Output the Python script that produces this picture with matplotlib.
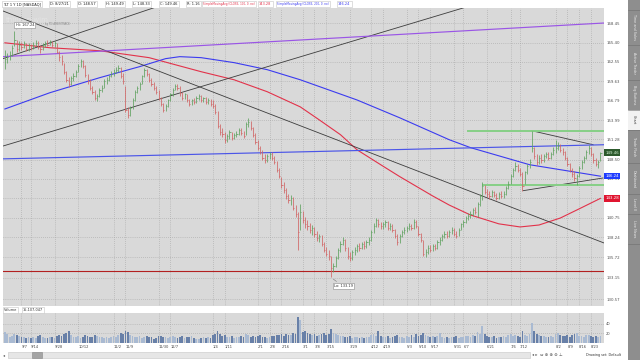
import numpy as np
import pandas as pd
import matplotlib
matplotlib.use("Agg")
import matplotlib.pyplot as plt
import matplotlib.transforms as mtransforms
from matplotlib.patches import Rectangle
from matplotlib.lines import Line2D
from matplotlib.ticker import NullLocator

# daily bars TLT, 8/27/20 .. 8/27/21
close = [
    162.9, 163.2, 163.6, 164.6, 165.9, 164.4, 165.1, 164.8, 165.3, 164.4,
    165.0, 164.6, 165.1, 165.4, 164.8, 164.4, 165.0, 165.3, 165.1, 165.6,
    165.0, 165.3, 164.0, 163.2, 162.6, 161.0, 159.85, 159.25, 160.1, 160.4,
    161.0, 161.95, 162.6, 161.95, 160.6, 159.6, 158.7, 158.1, 157.2, 157.5,
    158.4, 158.7, 159.6, 159.85, 160.4, 160.75, 161.0, 161.35, 161.6, 160.4,
    159.6, 155.5, 154.8, 155.75, 156.9, 158.1, 158.7, 159.25, 160.4, 161.35,
    160.75, 159.85, 159.25, 158.7, 158.1, 157.2, 156.35, 155.5, 156.05, 156.9,
    157.7, 158.4, 158.95, 158.7, 157.85, 157.2, 157.7, 156.9, 156.35, 156.9,
    156.6, 157.2, 157.5, 156.9, 157.2, 156.6, 156.9, 156.35, 156.05, 155.2,
    153.2, 152.3, 152.1, 151.25, 151.8, 152.3, 151.5, 151.95, 152.1, 152.6,
    152.2, 151.8, 153.5, 153.75, 152.9, 151.95, 151.0, 150.1, 149.55, 148.75,
    148.45, 149.0, 149.3, 148.75, 148.2, 147.1, 146.3, 145.0, 144.4, 143.6,
    143.1, 143.35, 142.0, 141.2, 138.95, 141.5, 140.45, 139.9, 139.7, 139.2,
    139.45, 138.7, 138.15, 138.4, 137.4, 136.65, 136.15, 135.9, 134.4, 134.6,
    135.65, 136.65, 137.4, 137.9, 136.9, 135.9, 135.65, 136.4, 136.65, 137.15,
    136.9, 137.4, 137.15, 137.65, 137.9, 138.95, 139.7, 140.45, 139.9, 139.7,
    139.9, 140.2, 139.45, 139.7, 139.2, 138.4, 137.65, 138.4, 138.95, 139.2,
    139.45, 139.7, 139.45, 140.2, 139.7, 138.7, 137.9, 136.15, 136.4, 136.9,
    136.65, 137.15, 136.9, 137.65, 137.9, 138.4, 138.7, 138.4, 138.95, 139.2,
    138.7, 138.4, 139.2, 139.9, 140.2, 140.7, 141.0, 141.2, 141.75, 141.5,
    142.55, 143.6, 144.95, 144.15, 143.9, 143.6, 144.15, 143.75, 143.35, 143.9,
    143.6, 143.9, 144.7, 145.2, 146.3, 147.1, 147.65, 147.1, 146.6, 144.95,
    146.8, 147.65, 148.2, 150.1, 149.0, 148.2, 148.75, 148.45, 149.0, 149.3,
    148.75, 149.3, 149.85, 150.1, 150.4, 149.85, 149.55, 148.75, 147.95, 147.1,
    146.6, 146.05, 146.3, 147.4, 148.2, 148.75, 149.55, 150.1, 149.3, 148.45,
    147.95, 148.2, 149.46,
]
high = [
    164.3, 163.9, 164.1, 165.0, 167.24, 165.8, 165.6, 165.5, 165.7, 165.4,
    165.3, 165.2, 165.5, 165.9, 165.6, 165.0, 165.3, 165.7, 165.8, 165.9,
    165.7, 165.6, 165.3, 164.2, 163.5, 162.4, 161.2, 160.3, 160.4, 160.9,
    161.3, 162.2, 163.0, 162.8, 162.0, 160.7, 159.9, 159.0, 158.3, 157.8,
    158.6, 159.1, 159.9, 160.3, 160.6, 161.1, 161.4, 161.7, 162.0, 161.8,
    160.8, 159.0, 155.9, 156.0, 157.2, 158.3, 159.0, 159.5, 160.6, 161.6,
    161.5, 160.9, 160.1, 159.5, 158.9, 158.3, 157.4, 156.5, 156.3, 157.1,
    157.9, 158.6, 159.3, 159.2, 158.9, 158.0, 157.9, 157.8, 157.1, 157.1,
    157.2, 157.5, 157.8, 157.6, 157.4, 157.4, 157.2, 157.1, 156.9, 156.3,
    155.3, 153.5, 152.9, 152.3, 152.1, 152.6, 152.4, 152.2, 152.5, 152.9,
    152.9, 152.5, 153.8, 154.3, 153.9, 153.0, 152.2, 151.2, 150.4, 149.8,
    149.2, 149.3, 149.6, 149.5, 149.0, 148.3, 147.3, 146.2, 145.4, 144.7,
    143.9, 143.7, 143.4, 142.4, 141.5, 142.6, 141.6, 140.8, 140.4, 140.0,
    139.8, 139.6, 139.0, 138.7, 138.5, 137.6, 137.0, 136.6, 135.9, 135.0,
    135.9, 136.9, 137.7, 138.3, 138.0, 137.0, 136.3, 136.6, 137.0, 137.4,
    137.5, 137.6, 137.7, 137.9, 138.2, 139.2, 140.0, 140.7, 140.6, 140.2,
    140.2, 140.5, 140.3, 140.0, 139.9, 139.3, 138.6, 138.6, 139.2, 139.5,
    139.7, 140.0, 139.9, 140.6, 140.4, 139.7, 138.8, 137.9, 136.8, 137.2,
    137.2, 137.4, 137.4, 137.9, 138.2, 138.6, 139.0, 139.0, 139.2, 139.5,
    139.4, 139.0, 139.4, 140.1, 140.5, 141.0, 141.3, 141.6, 142.0, 142.1,
    142.8, 143.9, 145.4, 145.1, 144.5, 144.2, 144.4, 144.3, 144.0, 144.1,
    144.2, 144.2, 144.9, 145.6, 146.6, 147.4, 148.2, 147.9, 147.4, 146.8,
    147.0, 147.9, 148.6, 152.5, 150.3, 149.3, 149.1, 149.2, 149.3, 149.6,
    149.5, 149.5, 150.2, 151.2, 151.0, 150.7, 150.1, 149.7, 148.9, 148.1,
    147.3, 146.9, 146.6, 147.6, 148.5, 149.0, 149.8, 150.55, 150.3, 149.4,
    148.7, 148.5, 149.49,
]
low = [
    161.5, 162.3, 162.8, 163.4, 164.9, 164.0, 164.2, 164.3, 164.6, 164.1,
    164.2, 164.3, 164.5, 164.9, 164.5, 163.9, 164.3, 164.8, 164.9, 165.0,
    164.7, 164.8, 163.8, 162.7, 162.1, 160.7, 159.5, 158.8, 159.1, 159.7,
    160.2, 161.0, 161.8, 161.6, 160.3, 159.3, 158.4, 157.8, 156.9, 156.8,
    157.4, 158.0, 158.6, 159.3, 159.7, 160.2, 160.4, 160.8, 161.0, 160.1,
    159.3, 155.2, 154.3, 154.6, 155.6, 156.8, 157.9, 158.4, 159.2, 160.3,
    160.4, 159.5, 158.9, 158.3, 157.8, 156.9, 156.0, 155.2, 155.3, 155.9,
    156.8, 157.5, 158.3, 158.3, 157.5, 156.9, 157.0, 156.6, 156.0, 156.2,
    156.3, 156.5, 156.9, 156.6, 156.6, 156.3, 156.3, 156.0, 155.7, 154.9,
    152.9, 151.9, 151.6, 150.8, 150.9, 151.4, 151.2, 151.3, 151.6, 151.9,
    151.9, 151.5, 151.9, 153.1, 152.6, 151.6, 150.7, 149.8, 149.2, 148.4,
    148.1, 148.2, 148.6, 148.4, 147.9, 146.8, 146.0, 144.6, 144.0, 143.2,
    142.7, 142.4, 141.7, 140.9, 136.65, 139.2, 140.0, 139.4, 139.2, 138.8,
    138.5, 138.3, 137.8, 137.6, 137.1, 136.3, 135.8, 135.3, 133.19, 133.9,
    134.5, 135.5, 136.4, 137.2, 136.5, 135.5, 135.2, 135.4, 136.0, 136.4,
    136.5, 136.7, 136.8, 136.9, 137.3, 137.8, 138.8, 139.5, 139.6, 139.3,
    139.3, 139.6, 139.1, 139.1, 138.9, 138.1, 137.3, 137.5, 138.2, 138.6,
    138.9, 139.1, 139.1, 139.3, 139.4, 138.4, 137.6, 135.9, 135.7, 136.1,
    136.3, 136.5, 136.6, 136.8, 137.3, 137.7, 138.1, 138.1, 138.2, 138.7,
    138.4, 138.1, 138.4, 139.1, 139.6, 140.0, 140.4, 140.7, 141.0, 141.2,
    140.9, 142.3, 143.1, 143.8, 143.5, 143.2, 143.4, 143.4, 143.0, 143.2,
    143.3, 143.3, 143.7, 144.5, 145.2, 146.2, 147.0, 146.8, 146.3, 144.3,
    145.2, 146.6, 147.4, 149.6, 148.6, 147.8, 147.9, 148.1, 148.2, 148.7,
    148.4, 148.6, 149.1, 149.4, 149.8, 149.5, 149.1, 148.4, 147.6, 146.8,
    146.2, 145.6, 145.1, 146.1, 147.2, 148.0, 148.6, 149.3, 149.0, 148.1,
    147.6, 147.4, 148.33,
]
# volume in millions of shares
volume = [
    22, 18, 13, 15, 19, 17, 14, 12, 13, 11,
    12, 10, 13, 11, 14, 16, 12, 11, 10, 13,
    12, 11, 15, 17, 14, 18, 21, 24, 16, 13,
    12, 14, 11, 13, 16, 15, 12, 13, 17, 14,
    12, 13, 11, 12, 10, 13, 14, 12, 16, 20,
    18, 24, 22, 17, 14, 13, 12, 15, 11, 13,
    14, 12, 13, 9, 11, 15, 14, 12, 13, 11,
    12, 14, 13, 11, 12, 14, 10, 12, 13, 15,
    11, 9, 8, 10, 12, 11, 13, 10, 16, 19,
    24, 18, 15, 17, 13, 12, 14, 11, 13, 12,
    14, 12, 18, 16, 13, 15, 12, 14, 16, 13,
    12, 11, 13, 15, 14, 17, 16, 19, 15, 18,
    16, 17, 20, 19, 54, 48, 22, 24, 20, 18,
    17, 19, 15, 16, 18, 20, 17, 19, 28, 21,
    18, 16, 14, 15, 13, 12, 14, 11, 13, 12,
    10, 12, 11, 13, 12, 16, 18, 15, 24, 14,
    13, 12, 15, 11, 13, 14, 17, 12, 13, 11,
    14, 12, 16, 13, 18, 15, 17, 20, 16, 14,
    13, 15, 12, 14, 21, 13, 11, 12, 10, 13,
    12, 14, 11, 13, 12, 15, 14, 13, 16, 15,
    22, 19, 36, 18, 15, 13, 12, 14, 11, 13,
    12, 14, 13, 16, 18, 15, 17, 14, 13, 25,
    17, 15, 18, 42, 24, 19, 16, 14, 15, 13,
    12, 14, 13, 18, 20, 16, 15, 14, 17, 13,
    16, 18, 21, 15, 14, 13, 16, 17, 14, 13,
    15, 12, 15.1,
]

# moving averages, sampled along the curves (bar index, value)
sma100_x = [0, 19, 40, 61, 83, 97, 111, 125, 133, 142, 149, 159, 167, 181, 188, 197, 209, 218, 226, 235, 243, 252]
sma100 = [165.4, 164.65, 164.2, 163.15, 161.05, 159.85, 158.1, 155.9, 154.05, 151.95, 149.85,
          147.8, 146.2, 143.6, 142.4, 141.1, 139.95, 139.55, 139.8, 140.7, 141.9, 143.28]
sma200_x = [0, 19, 40, 57, 68, 74, 83, 97, 111, 125, 149, 167, 188, 197, 222, 252]
sma200 = [155.6, 157.95, 160.15, 161.8, 163.0, 163.3, 163.15, 162.4, 161.35, 159.85,
          156.9, 154.35, 151.25, 150.15, 147.8, 146.24]

# drawn trendlines (x0, p0, x1, p1)
black_lines = [(-0.8, 170.33, 253.5, 137.5),
               (-0.8, 163.0, 72.8, 172.07),
               (-0.8, 150.37, 253.5, 177.6),
               (223, 152.5, 248.9, 150.55),
               (219.3, 144.3, 253.1, 146.0)]
purple_line = (-0.8, 163.3, 253.5, 168.45)
blue_line = (-0.8, 148.6, 253.5, 150.55)
green_levels = [(196, 152.5), (202.3, 145.1)]
red_level = 134.0

holidays = ['2020-09-07', '2020-11-26', '2020-12-25', '2021-01-01', '2021-01-18',
            '2021-02-15', '2021-04-02', '2021-05-31', '2021-07-05']
date_labels = ['9/7', '9/14', '9/28', '10/12', '11/2', '11/9', '11/30', '12/7', '1/4', '1/11',
               '2/1', '2/8', '2/16', '3/1', '3/8', '3/15', '3/29', '4/12', '4/19', '5/3',
               '5/10', '5/17', '5/31', '6/7', '6/21', '7/6', '7/12', '8/2', '8/9', '8/16', '8/23']
ytick_vals = [130.57, 133.15, 135.72, 138.24, 140.75, 143.33, 145.91, 148.50, 151.28,
              153.99, 156.79, 159.63, 162.55, 165.40, 168.45]

W, H = 640, 360
def fx(px):
    return px / W
def fy(py):
    return 1 - py / H

fig = plt.figure(figsize=(6.4, 3.6), dpi=100)
fig.patch.set_facecolor('white')
ax = fig.add_axes([fx(3), fy(306), fx(601), 298 / H])
axv = fig.add_axes([fx(3), fy(343), fx(601), 30 / H], sharex=ax)
grid_kw = dict(color='#a2a2a2', linestyle=(0, (1, 2)), linewidth=0.5)

x = np.arange(len(close))
c = np.array(close)
prev = np.r_[c[0] - 0.1, c[:-1]]
up = c >= prev

# price panel
ax.set_facecolor('#d9d9d9')
ax.set_yscale('log')
ax.set_ylim(129.73, 170.8)
ax.set_xlim(-0.8, 253.5)
bar_col = np.where(up, '#5fa25f', '#d06464')
ax.vlines(x, low, high, colors=bar_col, lw=0.55, zorder=4)
ax.hlines(close, x, x + 0.5, colors=bar_col, lw=0.55, zorder=4)

ax.plot(sma100_x, sma100, color='#e2324a', lw=0.8, zorder=3)
ax.plot(sma200_x, sma200, color='#3b3bf0', lw=0.8, zorder=3)
for x0, p0, x1, p1 in black_lines:
    ax.plot([x0, x1], [p0, p1], color='#3c3c3c', lw=0.6, zorder=3)
ax.plot(purple_line[::2], purple_line[1::2], color='#9a55e6', lw=0.85, zorder=3)
ax.plot(blue_line[::2], blue_line[1::2], color='#4b55e8', lw=0.85, zorder=3)
for x0, p in green_levels:
    ax.plot([x0, 253.5], [p, p], color='#86cf86', lw=1.4, zorder=3)
ax.axhline(red_level, color='#b22020', lw=0.8, zorder=3)

ax.set_yticks(ytick_vals)
ax.set_yticklabels([f'{v:.2f}' for v in ytick_vals])
ax.yaxis.set_minor_locator(NullLocator())
ax.yaxis.tick_right()
ax.tick_params(axis='y', labelsize=2.8, length=0, pad=1.5, labelcolor='#505050')
ax.tick_params(axis='x', labelbottom=False, length=0)
for s in ax.spines.values():
    s.set_visible(False)

# date ticks
dates = pd.bdate_range('2020-08-27', '2021-08-27', freq='C', holidays=holidays)
tick_pos = []
for lab in date_labels:
    m, d = lab.split('/')
    yr = 2020 if int(m) >= 9 else 2021
    tick_pos.append(int(dates.searchsorted(pd.Timestamp(yr, int(m), int(d)))))
ax.set_xticks(tick_pos)
ax.grid(True, **grid_kw)

# right-side tags
tr = mtransforms.blended_transform_factory(ax.transAxes, ax.transData)
for val, fc, tc in [(149.46, '#2d5a2d', '#d8f5d8'), (146.24, '#1f3cff', 'white'), (143.28, '#e01530', 'white')]:
    ax.text(1.002, val, f'{val:.2f}', transform=tr, fontsize=2.8, color=tc, ha='left', va='center',
            bbox=dict(boxstyle='square,pad=0.3', fc=fc, ec='none'), clip_on=False, zorder=10)

# high / low bubbles
bub = dict(boxstyle='square,pad=0.3', fc='white', ec='#8a8a8a', lw=0.4)
ax.annotate('Hi: 167.24', xy=(4, 167.24), xytext=(4.5, 168.2), fontsize=2.6, color='#333333',
            ha='left', va='center', bbox=bub, zorder=8,
            arrowprops=dict(arrowstyle='-', color='#777777', lw=0.4))
ax.annotate('Lo: 133.19', xy=(138, 133.19), xytext=(139.2, 132.1), fontsize=2.6, color='#333333',
            ha='left', va='center', bbox=bub, zorder=8,
            arrowprops=dict(arrowstyle='-', color='#777777', lw=0.4))
ax.text(0.5, 168.9, 'thinkorswim', fontsize=5, color='#e4e4e4', ha='left', va='center', zorder=1)
ax.text(16.8, 168.35, 'by TD AMERITRADE', fontsize=1.9, color='#8c8c8c', ha='left', va='center', zorder=1)

# volume panel
axv.set_facecolor('#d9d9d9')
vol_col = np.where(up, '#a9bad2', '#6880a8')
axv.bar(x, volume, width=0.75, color=vol_col, zorder=3)
axv.set_ylim(0, 62)
axv.set_yticks([20, 40])
axv.yaxis.tick_right()
axv.tick_params(axis='y', labelsize=2.6, length=0, pad=1.5, labelcolor='#505050')
axv.set_xticks(tick_pos)
axv.set_xticklabels(date_labels, ha='left')
axv.tick_params(axis='x', labelsize=2.6, length=0, pad=1.5, labelcolor='#454545')
axv.grid(True, **grid_kw)
for s in axv.spines.values():
    s.set_visible(False)

# header strip
hdr = dict(boxstyle='square,pad=0.35', fc='white', ec='#c4c4c4', lw=0.4)
header = [(3, 'TLT 1 Y 1D [NASDAQ]', '#222222', 2.6), (50, 'D: 8/27/21', '#222222', 2.6),
          (78, 'O: 148.57', '#222222', 2.6), (106, 'H: 149.49', '#222222', 2.6),
          (133, 'L: 148.33', '#222222', 2.6), (160, 'C: 149.46', '#222222', 2.6),
          (187, 'R: 1.16', '#222222', 2.6),
          (203, 'SimpleMovingAvg (CLOSE, 100, 0, no)', '#e2324a', 1.95), (259, '143.28', '#e2324a', 2.5),
          (277, 'SimpleMovingAvg (CLOSE, 200, 0, no)', '#3b3bf0', 1.95), (338, '146.24', '#3b3bf0', 2.5)]
for px, txt, col, fs in header:
    fig.text(fx(px), fy(4), txt, fontsize=fs, color=col, ha='left', va='center', bbox=hdr)

# volume label
fig.text(fx(4), fy(310), 'Volume', fontsize=2.5, color='#333333', ha='left', va='center', bbox=hdr)
fig.text(fx(23), fy(310), '15,107,047', fontsize=2.5, color='#333333', ha='left', va='center', bbox=hdr)

# right sidebar
fig.add_artist(Rectangle((fx(628), 0), fx(12), 1, transform=fig.transFigure, fc='#8e8e8e', ec='none'))
fig.add_artist(Rectangle((fx(628), fy(130)), fx(12), 20 / H, transform=fig.transFigure, fc='#f2f2f2', ec='none'))
tabs = [('Time and Sales', 27), ('Active Trader', 63), ('Big Buttons', 95), ('Chart', 120),
        ('Trade Flash', 147), ('Dashboard', 179), ('Level II', 204), ('Live News', 229)]
for name, yc in tabs:
    fig.text(fx(634), fy(yc), name, fontsize=2.4, rotation=270, ha='center', va='center',
             color='#333333' if name == 'Chart' else '#ececec')
for yy in [10, 45, 80, 110, 130, 163, 194, 214, 244]:
    fig.add_artist(Line2D([fx(628), fx(640)], [fy(yy), fy(yy)], transform=fig.transFigure,
                          color='#6e6e6e', lw=0.4))

# bottom scrollbar / toolbar
fig.add_artist(Rectangle((fx(8), fy(358)), fx(522), 6 / H, transform=fig.transFigure,
                         fc='#e6e6e6', ec='#c6c6c6', lw=0.4))
fig.add_artist(Rectangle((fx(32), fy(358)), fx(10), 6 / H, transform=fig.transFigure,
                         fc='#a4a4a4', ec='#888888', lw=0.4))
fig.text(fx(3), fy(355), '\u25c2', fontsize=3, color='#555555', ha='left', va='center')
fig.text(fx(532), fy(355), '\u25c2 \u25b8  \u21d4 \u2295 \u2295 \u2296 \u22a5', fontsize=3,
         color='#555555', ha='left', va='center')
fig.text(fx(586), fy(355), 'Drawing set: Default', fontsize=2.4, color='#333333', ha='left', va='center')

fig.savefig('out.png', dpi=100)
